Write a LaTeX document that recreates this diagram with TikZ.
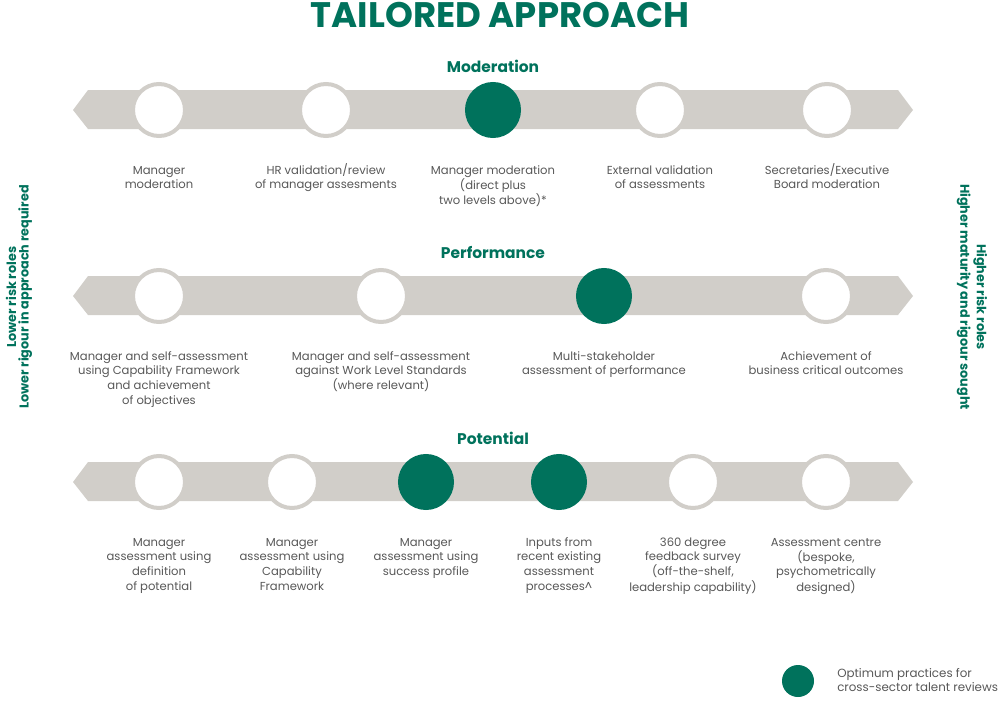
\documentclass[tikz,border=0pt]{standalone}
\usepackage{fontspec}
\setmainfont{Poppins}
\usepackage{tikz}
\usetikzlibrary{positioning}
\definecolor{TAGreen}{RGB}{0,114,92}
\definecolor{TABand}{RGB}{209,206,201}
\definecolor{TAText}{RGB}{88,88,88}
\newcommand{\lblstack}[1]{\begin{tabular}[t]{@{}c@{}}#1\end{tabular}}

\begin{document}
\begin{tikzpicture}[x=0.75pt, y=-0.75pt,
          ring/.style={circle, draw=TABand, line width=3pt, fill=white,
                       minimum size=39pt, inner sep=0pt},
          best/.style={circle, draw=TAGreen, line width=3pt, fill=TAGreen,
                       minimum size=39pt, inner sep=0pt},
          lbl/.style={anchor=base, font=\fontsize{8.7}{11}\selectfont,
                      text=TAText, inner sep=0pt},
          head/.style={font=\fontsize{11.6}{13}\selectfont\bfseries, text=TAGreen},
          side/.style={align=center, font=\fontsize{9.6}{9.3}\selectfont\bfseries,
                       text=TAGreen}
        ]
        \useasboundingbox (0,0) rectangle (1000,703);
        \node[font=\fontsize{26.6}{28}\selectfont\bfseries, text=TAGreen] (title) at (500,15)
              {TAILORED APPROACH};

        % Bands
        \foreach \y in {110,296,482}
          \fill[TABand] (88,\y-20) -- (898,\y-20) -- (913,\y) -- (898,\y+19)
                -- (88,\y+19) -- (73,\y) -- cycle;

        % Moderation
        \node[head] (modh) at (493,66) {Moderation};
        \node[ring] (mod1) at (159,110) {};
        \node[ring] (mod2) at (326,110) {};
        \node[best] (mod3) at (493,110) {};
        \node[ring] (mod4) at (660,110) {};
        \node[ring] (mod5) at (827,110) {};
        \node[lbl] (modl1) at (159,174) {\lblstack{Manager\\moderation}};
        \node[lbl] (modl2) at (326,174) {\lblstack{HR validation/review\\of manager assesments}};
        \node[lbl] (modl3) at (493,174) {\lblstack{Manager moderation\\(direct plus\\two levels above)*}};
        \node[lbl] (modl4) at (660,174) {\lblstack{External validation\\of assessments}};
        \node[lbl] (modl5) at (827,174) {\lblstack{Secretaries/Executive\\Board moderation}};

        % Performance
        \node[head] (perfh) at (493,252) {Performance};
        \node[ring] (perf1) at (159,296) {};
        \node[ring] (perf2) at (381,296) {};
        \node[best] (perf3) at (604,296) {};
        \node[ring] (perf4) at (826,296) {};
        \node[lbl] (perfl1) at (159,360) {\lblstack{Manager and self-assessment\\using Capability Framework\\and achievement\\of objectives}};
        \node[lbl] (perfl2) at (381,360) {\lblstack{Manager and self-assessment\\against Work Level Standards\\(where relevant)}};
        \node[lbl] (perfl3) at (604,360) {\lblstack{Multi-stakeholder\\assessment of performance}};
        \node[lbl] (perfl4) at (826,360) {\lblstack{Achievement of\\business critical outcomes}};

        % Potential
        \node[head] (poth) at (493,438) {Potential};
        \node[ring] (pot1) at (159,482) {};
        \node[ring] (pot2) at (292,482) {};
        \node[best] (pot3) at (426,482) {};
        \node[best] (pot4) at (559,482) {};
        \node[ring] (pot5) at (693,482) {};
        \node[ring] (pot6) at (826,482) {};
        \node[lbl] (potl1) at (159,546) {\lblstack{Manager\\assessment using\\definition\\of potential}};
        \node[lbl] (potl2) at (292,546) {\lblstack{Manager\\assessment using\\Capability\\Framework}};
        \node[lbl] (potl3) at (426,546) {\lblstack{Manager\\assessment using\\success profile}};
        \node[lbl] (potl4) at (559,546) {\lblstack{Inputs from\\recent existing\\assessment\\processes\^{}}};
        \node[lbl] (potl5) at (693,546) {\lblstack{360 degree\\feedback survey\\(off-the-shelf,\\leadership capability)}};
        \node[lbl] (potl6) at (826,546) {\lblstack{Assessment centre\\(bespoke,\\psychometrically\\designed)}};

        % Sides
        \node[side, rotate=90] (low) at (19,297)
              {Lower risk roles\\Lower rigour in approach required};
        \node[side, rotate=-90, font=\fontsize{9.6}{12.5}\selectfont\bfseries] (high) at (972,297)
              {Higher risk roles\\Higher maturity and rigour sought};

        % Key
        \node[circle, fill=TAGreen, minimum size=24pt, inner sep=0pt] (key) at (798,681) {};
        \node[anchor=west, align=left, font=\fontsize{8.9}{10.5}\selectfont, text=TAText,
              inner sep=0pt] (keyl) at (837,680)
              {Optimum practices for\\cross-sector talent reviews};
      \end{tikzpicture}
\end{document}
